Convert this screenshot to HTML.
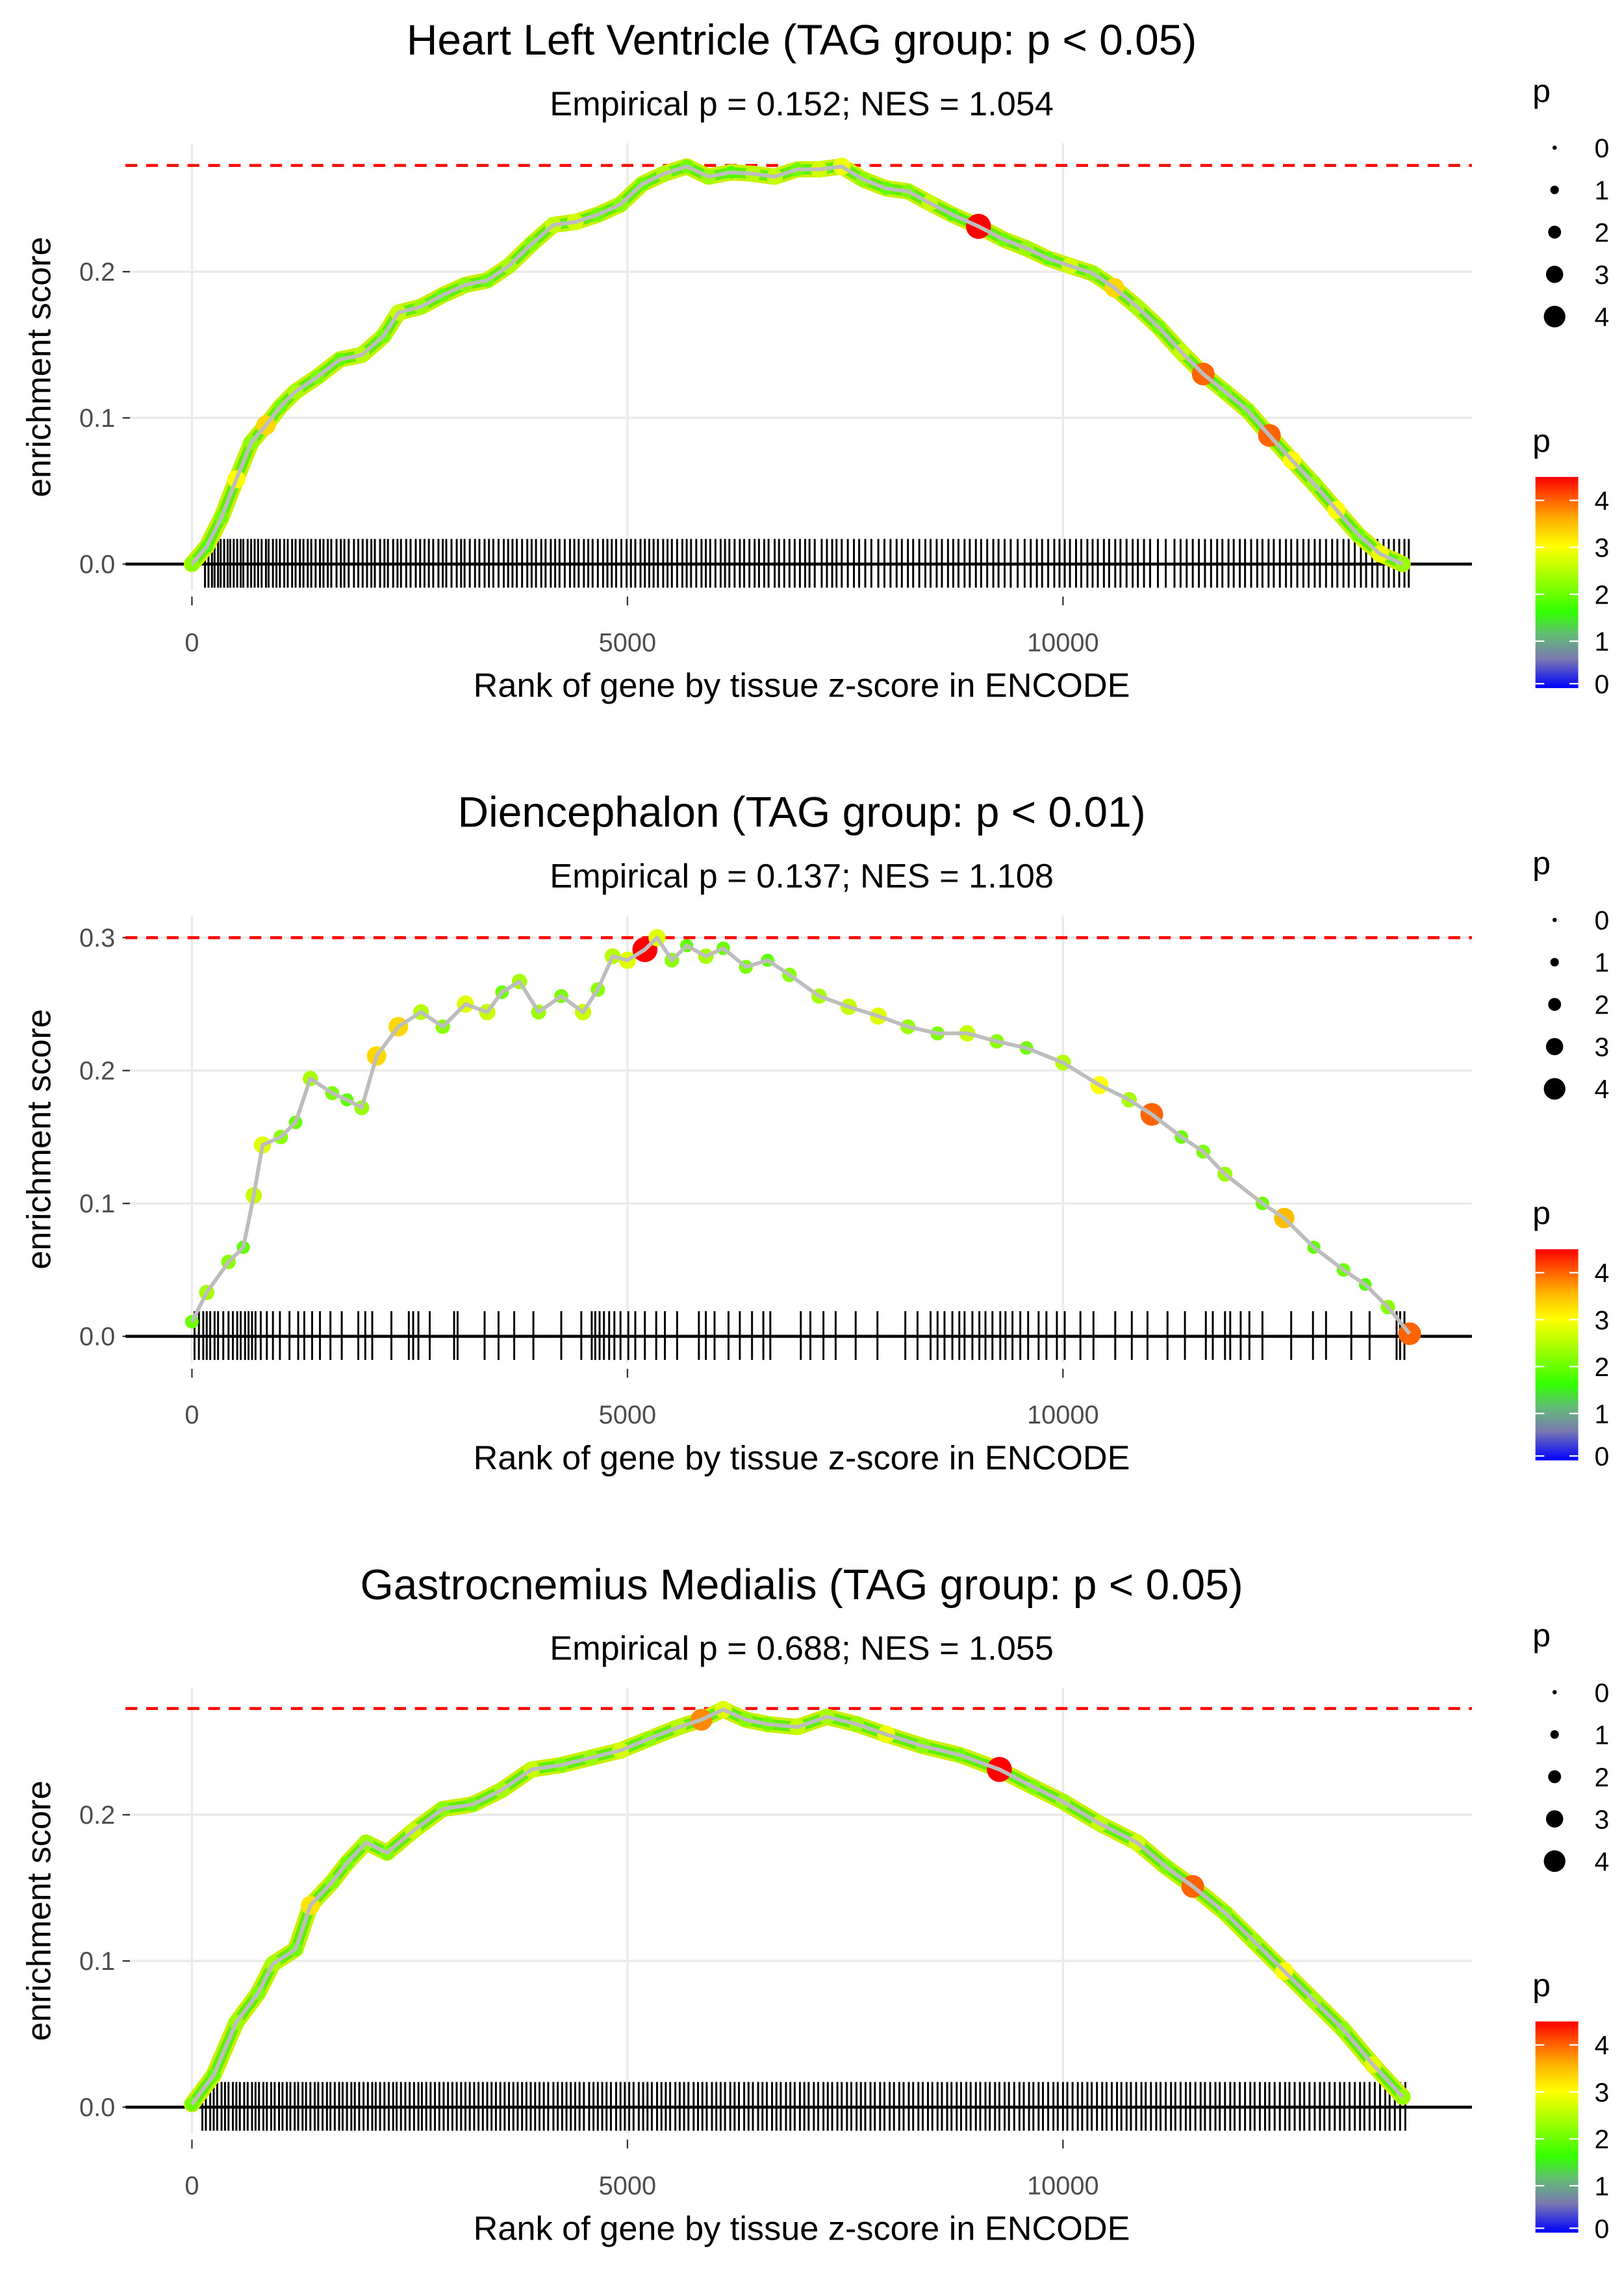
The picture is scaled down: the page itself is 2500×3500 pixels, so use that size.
<!DOCTYPE html>
<html><head><meta charset="utf-8"><style>
html,body{margin:0;padding:0;background:#fff;}
svg{display:block;font-family:"Liberation Sans",sans-serif;}
</style></head><body>
<svg id="fig" width="2500" height="3500" viewBox="0 0 1100 1540" xmlns="http://www.w3.org/2000/svg">
<defs>
<linearGradient id="pgrad" x1="0" y1="1" x2="0" y2="0">
<stop offset="0" stop-color="#0000ff"/><stop offset="0.14" stop-color="#7a7ab0"/>
<stop offset="0.26" stop-color="#60c070"/><stop offset="0.36" stop-color="#33ff00"/>
<stop offset="0.67" stop-color="#ffff00"/><stop offset="0.8" stop-color="#ffb000"/>
<stop offset="0.9" stop-color="#ff5a00"/><stop offset="1" stop-color="#ff0000"/>
</linearGradient>
</defs>
</svg>
<script>
// ---- data ----
const titles = ["Heart Left Ventricle (TAG group: p < 0.05)","Diencephalon (TAG group: p < 0.01)","Gastrocnemius Medialis (TAG group: p < 0.05)"];
const subtitles = ["Empirical p = 0.152; NES = 1.054","Empirical p = 0.137; NES = 1.108","Empirical p = 0.688; NES = 1.055"];
const maxES = [0.2727, 0.300, 0.2727];
const xTicks = [0, 5000, 10000];
const xTickLabels = ["0","5000","10000"];
const yTicks1 = [0, 0.1, 0.2];
const yTicks2 = [0, 0.1, 0.2, 0.3];
const yTicks3 = [0, 0.1, 0.2];

const ranks1 = [0,170,340,510,680,850,1020,1190,1440,1700,1950,2200,2370,2630,2880,3140,3390,3640,3900,4150,4400,4660,4920,5170,5420,5680,5930,6190,6440,6690,6950,7200,7460,7710,7970,8220,8470,8730,9030,9320,9580,9830,10080,10340,10590,10850,11100,11360,11610,11860,12120,12370,12630,12880,13140,13390,13640,13900];
const es1 = [0,0.012,0.032,0.058,0.083,0.095,0.108,0.118,0.128,0.14,0.143,0.156,0.172,0.176,0.184,0.191,0.194,0.204,0.219,0.232,0.234,0.239,0.246,0.26,0.267,0.272,0.265,0.268,0.267,0.265,0.27,0.27,0.272,0.263,0.257,0.255,0.247,0.239,0.231,0.222,0.216,0.209,0.204,0.199,0.189,0.176,0.162,0.145,0.13,0.118,0.105,0.088,0.071,0.055,0.037,0.02,0.007,0];
const p1 = [2.2,1.8,2.0,3.0,2.2,3.3,2.0,2.4,2.1,1.9,2.5,2.0,2.6,2.3,1.9,2.2,2.0,2.4,2.1,2.6,2.7,2.0,2.2,1.9,2.4,2.0,2.3,1.8,2.5,2.6,2.0,2.7,2.9,2.2,1.9,2.1,2.6,1.8,4.5,2.0,2.3,1.9,2.7,2.2,3.3,2.4,2.0,2.6,4.0,2.1,2.0,4.0,3.0,2.3,3.0,2.0,2.9,2.3];
const hits1 = [150,190,230,260,300,330,370,410,440,480,520,560,590,640,680,720,760,800,850,880,930,970,1010,1060,1100,1150,1190,1240,1280,1330,1370,1420,1470,1510,1560,1600,1660,1710,1750,1800,1860,1910,1960,2010,2060,2100,2160,2210,2250,2310,2360,2400,2460,2510,2570,2620,2670,2720,2770,2830,2880,2920,2980,3040,3090,3130,3190,3250,3300,3360,3410,3460,3520,3580,3630,3680,3730,3790,3850,3900,3950,4010,4060,4120,4170,4220,4280,4340,4390,4440,4500,4550,4600,4660,4720,4770,4820,4870,4930,4990,5040,5090,5150,5200,5250,5300,5350,5410,5460,5510,5570,5630,5680,5730,5790,5850,5900,5950,6010,6070,6120,6170,6230,6290,6340,6400,6460,6510,6570,6620,6690,6740,6800,6860,6920,6980,7040,7090,7150,7230,7290,7350,7400,7460,7530,7600,7660,7730,7800,7880,7950,8020,8090,8150,8220,8280,8350,8420,8480,8550,8610,8680,8740,8800,8870,8930,9000,9060,9130,9200,9260,9330,9400,9480,9560,9630,9700,9760,9830,9900,9960,10020,10080,10150,10210,10280,10340,10400,10470,10530,10600,10660,10730,10800,10860,10930,11000,11090,11180,11280,11350,11420,11490,11560,11630,11700,11770,11830,11900,11960,12030,12090,12160,12230,12290,12360,12420,12490,12560,12620,12690,12760,12820,12890,12950,13020,13090,13150,13220,13280,13350,13420,13480,13550,13610,13680,13740,13800,13860,13920,13970];

const ranks2 = [0,170,420,590,710,810,1020,1190,1360,1610,1780,1950,2120,2370,2630,2880,3140,3390,3560,3760,3980,4240,4490,4660,4830,5000,5200,5340,5510,5680,5900,6100,6360,6610,6860,7200,7540,7880,8220,8560,8900,9240,9580,10000,10420,10760,11020,11360,11610,11860,12290,12540,12880,13220,13470,13730,13980];
const es2 = [0.011,0.033,0.056,0.067,0.106,0.144,0.15,0.161,0.194,0.183,0.178,0.172,0.211,0.233,0.244,0.233,0.25,0.244,0.259,0.267,0.244,0.256,0.244,0.261,0.286,0.283,0.291,0.3,0.283,0.294,0.286,0.292,0.278,0.283,0.272,0.256,0.248,0.241,0.233,0.228,0.228,0.222,0.217,0.206,0.189,0.178,0.167,0.15,0.139,0.122,0.1,0.089,0.067,0.05,0.039,0.022,0.002];
const p2 = [2.0,2.4,2.2,1.9,2.6,2.8,2.2,2.0,2.4,2.1,1.9,2.3,3.3,3.3,2.5,2.2,2.8,2.6,2.0,2.4,2.3,2.1,2.6,2.2,2.5,2.8,4.5,2.8,2.2,1.9,2.4,2.0,2.1,1.9,2.2,2.4,2.6,2.8,2.3,2.1,2.6,2.2,2.0,2.5,3.0,2.4,4.0,2.0,2.1,2.3,2.0,3.5,1.9,2.0,1.8,2.2,4.0];
const hits2 = [30,80,130,170,210,260,300,360,420,470,520,560,610,650,690,730,790,860,930,1010,1120,1220,1290,1380,1470,1590,1720,1910,1990,2070,2290,2490,2540,2600,2730,3010,3050,3360,3520,3700,3920,4240,4470,4590,4630,4680,4730,4790,4850,4920,5010,5090,5200,5330,5430,5570,5820,5900,6000,6160,6290,6430,6560,6640,6990,7100,7250,7390,7620,7870,8190,8330,8480,8560,8640,8730,8810,8870,8960,9040,9110,9190,9280,9340,9420,9510,9600,9720,9810,9930,10020,10200,10350,10600,10790,10970,11200,11400,11640,11720,11860,11920,12040,12140,12290,12620,12870,13020,13310,13520,13830,13870,13920];

const ranks3 = [0,250,510,760,930,1190,1360,1610,1780,2000,2240,2540,2880,3220,3560,3900,4240,4580,4920,5250,5590,5850,6100,6360,6610,6950,7290,7630,7970,8390,8810,9270,9660,10000,10420,10850,11190,11490,11860,12200,12540,12880,13220,13560,13900];
const es3 = [0.002,0.022,0.058,0.078,0.098,0.108,0.138,0.154,0.167,0.181,0.174,0.189,0.204,0.207,0.217,0.231,0.234,0.239,0.244,0.252,0.26,0.265,0.272,0.265,0.262,0.26,0.267,0.262,0.255,0.247,0.241,0.231,0.219,0.209,0.194,0.181,0.164,0.151,0.133,0.113,0.093,0.073,0.053,0.029,0.007];
const p3 = [2.0,1.9,2.3,2.1,2.4,2.0,3.2,2.2,2.0,2.3,2.1,2.6,2.2,2.0,2.4,2.6,2.1,2.3,2.7,2.2,2.5,3.8,2.8,2.2,2.0,2.6,2.4,2.3,2.9,2.2,2.0,4.5,2.1,2.3,2.6,2.7,2.0,4.0,2.1,2.3,3.0,2.4,2.2,2.8,2.3];
const hits3 = [120,160,210,250,290,340,380,420,470,510,550,600,640,690,730,770,820,860,910,950,1000,1040,1090,1130,1180,1220,1270,1310,1360,1410,1450,1500,1550,1590,1640,1690,1730,1780,1830,1870,1920,1970,2020,2070,2110,2160,2210,2260,2310,2350,2400,2450,2500,2550,2600,2640,2690,2740,2790,2840,2890,2940,2990,3040,3090,3140,3190,3240,3290,3340,3390,3440,3490,3540,3590,3640,3690,3740,3790,3840,3890,3940,3990,4040,4090,4150,4200,4250,4300,4350,4400,4450,4500,4560,4610,4660,4710,4760,4810,4870,4920,4970,5020,5070,5130,5180,5230,5280,5340,5390,5440,5490,5550,5600,5650,5700,5760,5810,5860,5910,5970,6020,6070,6120,6180,6230,6280,6340,6390,6440,6500,6550,6600,6660,6710,6760,6820,6870,6920,6980,7030,7080,7140,7190,7250,7300,7350,7410,7460,7520,7570,7630,7680,7730,7790,7840,7900,7950,8010,8060,8120,8170,8230,8280,8340,8390,8450,8500,8560,8610,8670,8720,8780,8830,8890,8940,9000,9050,9110,9160,9220,9270,9330,9380,9440,9500,9550,9610,9660,9720,9770,9830,9890,9940,10000,10050,10110,10170,10220,10280,10330,10390,10450,10500,10560,10620,10670,10730,10780,10840,10900,10950,11010,11070,11120,11180,11240,11290,11350,11410,11460,11520,11580,11630,11690,11750,11800,11860,11920,11970,12030,12090,12150,12200,12260,12320,12370,12430,12490,12550,12600,12660,12720,12770,12830,12890,12950,13000,13060,13120,13180,13230,13290,13350,13410,13460,13520,13580,13640,13700,13750,13810,13870,13930];

const sizeLegendVals = [0,1,2,3,4];
const colorLegendVals = [0,1,2,3,4];

// ---- drawing ----
const NS = "http://www.w3.org/2000/svg";
const svg = document.getElementById("fig");
function mk(tag, attrs, parent){ const e=document.createElementNS(NS,tag); for(const k in attrs) e.setAttribute(k,attrs[k]); (parent||svg).appendChild(e); return e; }
function txt(s, attrs, parent){ const e=mk("text",attrs,parent); e.textContent=s; return e; }
const stops = [[0,[0,0,255]],[0.6,[122,122,176]],[1.15,[96,192,112]],[1.6,[51,255,0]],[3.0,[255,255,0]],[3.6,[255,176,0]],[4.05,[255,90,0]],[4.5,[255,0,0]]];
function pColor(p){ p=Math.max(0,Math.min(4.5,p)); for(let i=1;i<stops.length;i++){ if(p<=stops[i][0]){ const a=stops[i-1],b=stops[i]; const t=(p-a[0])/(b[0]-a[0]); const c=a[1].map((v,j)=>Math.round(v+(b[1][j]-v)*t)); return `rgb(${c[0]},${c[1]},${c[2]})`; } } return "rgb(255,0,0)"; }
function pRadius(p){ return 1.5+ p*1.55; }

const X0=130, XPX=295/5000, PL=85, PR=997;
const xs = r => X0 + r*XPX;
const panels = [
 {ranks:ranks1, es:es1, p:p1, hits:hits1, yTicks:yTicks1, y0:382, sc:990, top:97, bot:400},
 {ranks:ranks2, es:es2, p:p2, hits:hits2, yTicks:yTicks2, y0:905, sc:900, top:620, bot:923},
 {ranks:ranks3, es:es3, p:p3, hits:hits3, yTicks:yTicks3, y0:1427, sc:990, top:1143, bot:1445}
];
const offs=[0,523,1046];
panels.forEach((P,i)=>{
  const g = mk("g",{}); 
  
  
  const off=offs[i];
  const ys = v => P.y0 - v*P.sc;
  const t=txt(titles[i],{x:543,y:37+off,"font-size":29,"text-anchor":"middle",fill:"#000"},g);
  
  
  const st=txt(subtitles[i],{x:543,y:78+off,"font-size":23,"text-anchor":"middle",fill:"#000"},g);
  
  
  xTicks.forEach((v,k)=>{
    const l=mk("line",{x1:xs(v),x2:xs(v),y1:P.top,y2:P.bot,stroke:"#ebebeb","stroke-width":1.6},g);
    
    
    mk("line",{x1:xs(v),x2:xs(v),y1:P.bot+4,y2:P.bot+10,stroke:"#333","stroke-width":1},g);
    const tl=txt(xTickLabels[k],{x:xs(v),y:P.y0+59,"font-size":17.5,"text-anchor":"middle",fill:"#4d4d4d"},g);
    
    
  });
  P.yTicks.forEach(v=>{
    if(v>0){ const l=mk("line",{x1:PL,x2:PR,y1:ys(v),y2:ys(v),stroke:"#ebebeb","stroke-width":1.6},g);
      
       }
    mk("line",{x1:83,x2:88,y1:ys(v),y2:ys(v),stroke:"#333","stroke-width":1},g);
    const tl=txt(v.toFixed(1),{x:78,y:ys(v)+6,"font-size":17.5,"text-anchor":"end",fill:"#4d4d4d"},g);
    
    
  });
  const yt=txt("enrichment score",{x:0,y:0,"font-size":23,"text-anchor":"middle",fill:"#000",transform:`translate(34,${(P.top+P.bot)/2}) rotate(-90)`},g);
  
  
  const xt=txt("Rank of gene by tissue z-score in ENCODE",{x:543,y:P.y0+90,"font-size":23,"text-anchor":"middle",fill:"#000"},g);
  
  
  const ml=mk("line",{x1:PL,x2:PR,y1:ys(maxES[i]),y2:ys(maxES[i]),stroke:"#ff0000","stroke-width":2,"stroke-dasharray":"8,6"},g);
  
  
  const rug=mk("g",{},g);
  
  
  P.hits.forEach(h=>{
    mk("line",{x1:xs(h),x2:xs(h),y1:P.y0-17,y2:P.y0+16,stroke:"#000","stroke-width":1.3},rug);
  });
  const zl=mk("line",{x1:PL,x2:PR,y1:P.y0,y2:P.y0,stroke:"#000","stroke-width":2},g);
  
  
  const pts=P.ranks.map((r,k)=>xs(r)+","+ys(P.es[k])).join(" ");
  if(i!==1){
    mk("polyline",{points:pts,fill:"none",stroke:"#c8f000","stroke-width":11,"stroke-linejoin":"round","stroke-linecap":"round"},g);
    mk("polyline",{points:pts,fill:"none",stroke:"#5ef000","stroke-width":7,"stroke-linejoin":"round","stroke-linecap":"round"},g);
  } else {
    mk("polyline",{points:pts,fill:"none",stroke:"#bdbdbd","stroke-width":2,"stroke-linejoin":"round"},g);
  }
  const dots=mk("g",{},g);
  
  
  P.ranks.forEach((r,k)=>{
    const c=mk("circle",{cx:xs(r),cy:ys(P.es[k]),r:pRadius(P.p[k]),fill:pColor(P.p[k])},dots);
    
    
  });
  const cl=mk("polyline",{points:pts,fill:"none",stroke:"#bdbdbd","stroke-width":2.6,"stroke-linejoin":"round"},g);
  
  
  const lg=mk("g",{},g);
  
  
  txt("p",{x:1038,y:69+off,"font-size":22,fill:"#000"},lg);
  sizeLegendVals.forEach((v,k)=>{
    const y=100+off+k*28.6;
    mk("circle",{cx:1053,cy:y,r:pRadius(v)*0.95,fill:"#000"},lg);
    txt(String(v),{x:1080,y:y+6.5,"font-size":18,fill:"#000"},lg);
  });
  const cg=mk("g",{},g);
  
  
  txt("p",{x:1038,y:306+off,"font-size":22,fill:"#000"},cg);
  const cbTop=323+off, cbBot=466+off, cmax=4.5;
  mk("rect",{x:1040,y:cbTop,width:29,height:cbBot-cbTop,fill:"url(#pgrad)"},cg);
  colorLegendVals.forEach(v=>{
    const y=cbBot - (v/cmax)*(cbBot-cbTop) - (v===0?3:0);
    mk("line",{x1:1040,x2:1046,y1:y,y2:y,stroke:"#fff","stroke-width":1},cg);
    mk("line",{x1:1063,x2:1069,y1:y,y2:y,stroke:"#fff","stroke-width":1},cg);
    txt(String(v),{x:1080,y:y+6.5,"font-size":18,fill:"#000"},cg);
  });
});
</script>
</body></html>
